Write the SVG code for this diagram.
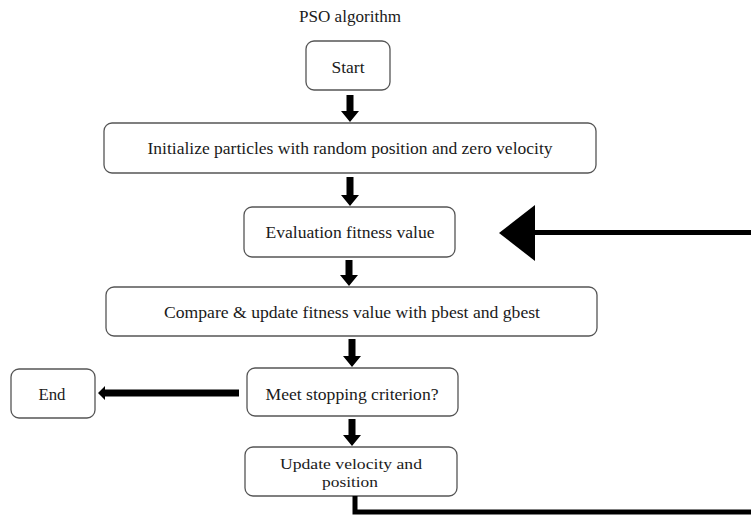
<svg xmlns="http://www.w3.org/2000/svg" width="751" height="517" viewBox="0 0 751 517">
<style>
  .box { fill: #ffffff; stroke: #555555; stroke-width: 1.3; }
  .lbl { font-family: "Liberation Serif", "Times New Roman", serif; font-size: 16px; fill: #1a1a1a; text-anchor: middle; }
  .sm { font-size: 15px; }
  .arr { fill: #000000; }
  .line { fill: none; stroke: #000000; stroke-width: 5; }
</style>
<rect width="751" height="517" fill="#ffffff"/>
<text class="lbl" x="350" y="22" textLength="102" lengthAdjust="spacingAndGlyphs">PSO algorithm</text>

<g id="start">
  <rect class="box" x="306" y="41" width="84" height="49" rx="8"/>
  <text class="lbl" x="348" y="73" textLength="33" lengthAdjust="spacingAndGlyphs">Start</text>
</g>
<g id="init">
  <rect class="box" x="104" y="123" width="492" height="50" rx="8"/>
  <text class="lbl" x="350" y="154" textLength="405" lengthAdjust="spacingAndGlyphs">Initialize particles with random position and zero velocity</text>
</g>
<g id="eval">
  <rect class="box" x="244" y="207" width="211" height="50" rx="8"/>
  <text class="lbl" x="350" y="238" textLength="169" lengthAdjust="spacingAndGlyphs">Evaluation fitness value</text>
</g>
<g id="compare">
  <rect class="box" x="106" y="287" width="491" height="49" rx="8"/>
  <text class="lbl" x="352" y="318" textLength="376" lengthAdjust="spacingAndGlyphs">Compare &amp; update fitness value with pbest and gbest</text>
</g>
<g id="meet">
  <rect class="box" x="247" y="368" width="211" height="48" rx="8"/>
  <text class="lbl" x="352" y="400" textLength="173" lengthAdjust="spacingAndGlyphs">Meet stopping criterion?</text>
</g>
<g id="end">
  <rect class="box" x="11" y="369" width="84" height="49" rx="8"/>
  <text class="lbl" x="52" y="400" textLength="27" lengthAdjust="spacingAndGlyphs">End</text>
</g>
<g id="update">
  <rect class="box" x="245" y="447" width="212" height="49" rx="8"/>
  <text class="lbl sm" x="351" y="469" textLength="142" lengthAdjust="spacingAndGlyphs">Update velocity and</text>
  <text class="lbl sm" x="350" y="487" textLength="56" lengthAdjust="spacingAndGlyphs">position</text>
</g>

<g id="connectors">
  <polygon class="arr" points="346.5,95 353.5,95 353.5,111 359,111 350,122 341,111 346.5,111"/>
  <polygon class="arr" points="346.5,177 353.5,177 353.5,195 359,195 350,206 341,195 346.5,195"/>
  <polygon class="arr" points="345.5,260 352.5,260 352.5,275 358,275 349,286 340,275 345.5,275"/>
  <polygon class="arr" points="348.5,339 355.5,339 355.5,356 361,356 352,367 343,356 348.5,356"/>
  <polygon class="arr" points="348.5,419 355.5,419 355.5,435 361,435 352,446 343,435 348.5,435"/>
  <polygon class="arr" points="239,389.5 239,396.5 105,396.5 105,400 98,393 105,386 105,389.5"/>
  <polyline class="line" points="355,496 355,512 751,512"/>
  <line class="line" x1="530" y1="232.5" x2="751" y2="232.5"/>
  <polygon class="arr" points="499,233 535,205 535,261"/>
</g>
</svg>
